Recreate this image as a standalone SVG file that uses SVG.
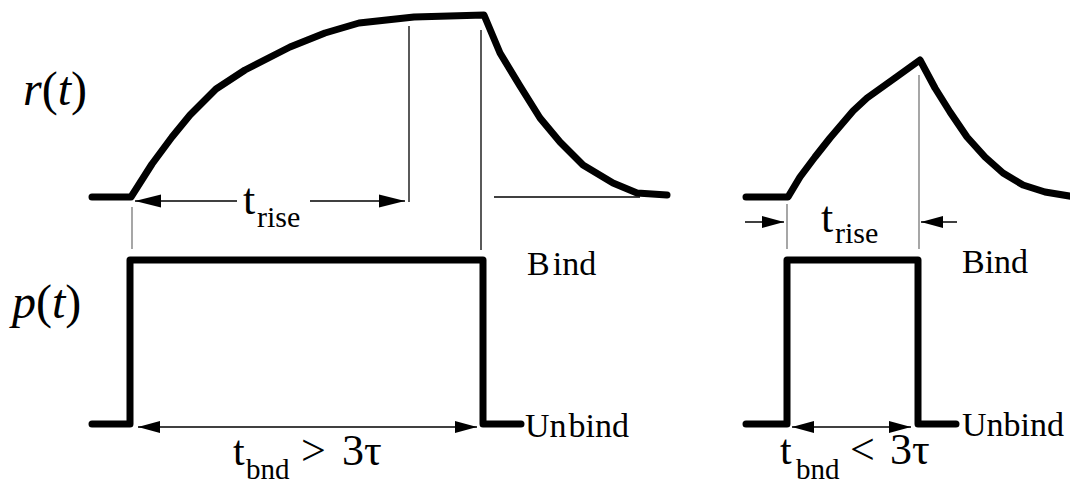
<svg xmlns="http://www.w3.org/2000/svg" width="1070" height="485" viewBox="0 0 1070 485">
<style>
.thick{fill:none;stroke:#000;stroke-width:7;stroke-linecap:round;stroke-linejoin:round}
.thin{fill:none;stroke:#000;stroke-width:1.3}
.grey{fill:none;stroke:#777;stroke-width:1.3}
.dim{fill:none;stroke:#000;stroke-width:1.3}
.it{font-style:italic}
</style>
<defs>
<marker id="ahBig" markerUnits="userSpaceOnUse" markerWidth="27" markerHeight="14" viewBox="0 0 27 14" refX="26" refY="7" orient="auto-start-reverse"><path d="M0,0.5 L26,7 L0,13.5 z" fill="#000"/></marker>
<marker id="ahSmall" markerUnits="userSpaceOnUse" markerWidth="23" markerHeight="13" viewBox="0 0 23 13" refX="22" refY="6.5" orient="auto-start-reverse"><path d="M0,0.5 L22,6.5 L0,12.5 z" fill="#000"/></marker>
</defs>
<rect width="1070" height="485" fill="#fff"/>

<g font-family="'Liberation Serif', 'DejaVu Serif', serif" fill="#000">
<g id="label-rt"><text x="23" y="105" font-size="48"><tspan class="it">r</tspan>(<tspan class="it">t</tspan>)</text></g>
<g id="label-pt"><text x="12" y="318" font-size="48"><tspan class="it">p</tspan>(<tspan class="it">t</tspan>)</text></g>
</g>

<g id="left-response">
<polyline class="thick" points="92,197 131,197 152,164 172,137 190,115 216,89 245,70 290,47 325,33 359,23 414,17 484,15 500,53 520,86 540,118 560,142 583,165 613,183 637,193 667,195"/>
</g>
<g id="left-pulse">
<polyline class="thick" points="92,424 130,424 130,260 483,260 483,424 521,424"/>
</g>
<g id="right-response">
<polyline class="thick" points="746,197 788,197 800,177 815,157 830,138 853,111 867,98 895,78 920,60 935,88 950,112 967,137 985,157 1003,173 1023,185 1045,192 1075,197"/>
</g>
<g id="right-pulse">
<polyline class="thick" points="746,424 787,424 787,260 918,260 918,424 956,424"/>
</g>

<g id="connectors">
<line class="grey" x1="132" y1="207" x2="132" y2="249"/>
<line class="thin" x1="409" y1="26" x2="409" y2="202"/>
<line class="thin" x1="481" y1="30" x2="481" y2="250"/>
<line class="thin" x1="494" y1="197" x2="640" y2="197"/>
<line class="dim" x1="237" y1="201" x2="135" y2="201" marker-end="url(#ahBig)"/>
<line class="dim" x1="310" y1="201" x2="405" y2="201" marker-end="url(#ahBig)"/>
<line class="dim" x1="138" y1="427" x2="477" y2="427" marker-start="url(#ahSmall)" marker-end="url(#ahSmall)"/>
<line class="grey" x1="787" y1="204" x2="787" y2="249"/>
<line class="grey" x1="919" y1="75" x2="919" y2="249"/>
<line class="dim" x1="745" y1="222" x2="784" y2="222" marker-end="url(#ahSmall)"/>
<line class="dim" x1="957" y1="222" x2="921" y2="222" marker-end="url(#ahSmall)"/>
<line class="dim" x1="792" y1="427" x2="911" y2="427" marker-start="url(#ahSmall)" marker-end="url(#ahSmall)"/>
</g>

<g font-family="'Liberation Serif', 'DejaVu Serif', serif" fill="#000">
<g id="left-labels">
<text x="243" y="214" font-size="44">t</text><text x="257" y="227" font-size="30">rise</text>
<text x="527" y="275" font-size="34">B<tspan dx="3">ind</tspan></text>
<text x="525" y="437" font-size="34">Un<tspan dx="2">bind</tspan></text>
<text x="233" y="465" font-size="42">t</text><text x="246" y="479" font-size="29">bnd</text>
<text x="301" y="465" font-size="44">&gt;</text>
<text x="342" y="465" font-size="44">3τ</text>
</g>
<g id="right-labels">
<text x="821" y="232" font-size="44">t</text><text x="835" y="243" font-size="30">rise</text>
<text x="962" y="273" font-size="34">Bind</text>
<text x="962" y="436" font-size="34">Unbind</text>
<text x="780" y="464" font-size="42">t</text><text x="796" y="479" font-size="29">bnd</text>
<text x="850" y="464" font-size="44">&lt;</text>
<text x="890" y="464" font-size="44">3τ</text>
</g>
</g>
</svg>
